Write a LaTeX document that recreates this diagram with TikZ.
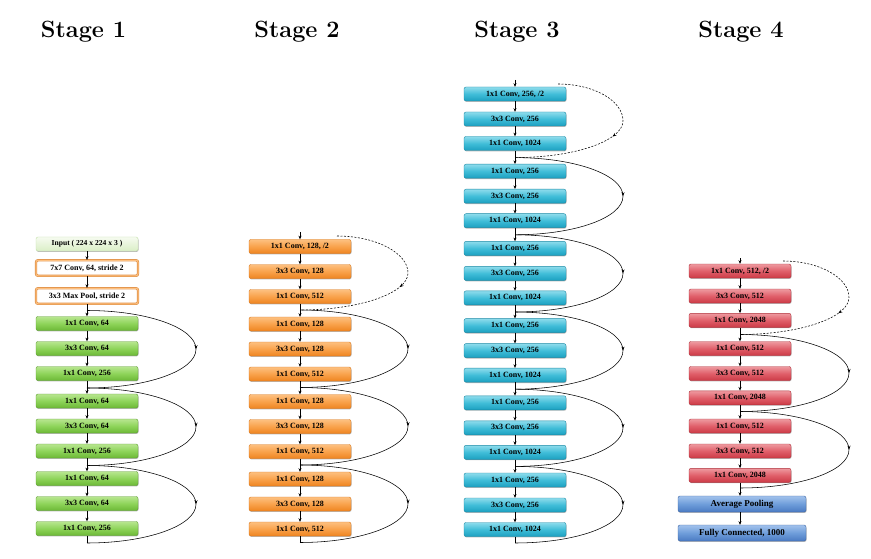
\documentclass[tikz,border=0pt]{standalone}
\usepackage{fontspec}
\newfontfamily\boxfont{Liberation Serif}
\usetikzlibrary{arrows.meta,decorations.markings,shadows,calc}
\definecolor{greenT}{HTML}{B8E690}
\definecolor{greenM}{HTML}{8ED45A}
\definecolor{greenB}{HTML}{6CB836}
\definecolor{greenD}{HTML}{5E9E30}
\definecolor{orangeT}{HTML}{FDC080}
\definecolor{orangeM}{HTML}{F9A24B}
\definecolor{orangeB}{HTML}{EE8420}
\definecolor{orangeD}{HTML}{D9771A}
\definecolor{cyanT}{HTML}{8EDCEC}
\definecolor{cyanM}{HTML}{40BDD8}
\definecolor{cyanB}{HTML}{1CA0C0}
\definecolor{cyanD}{HTML}{1A8AA6}
\definecolor{redT}{HTML}{EE9AA0}
\definecolor{redM}{HTML}{E05F6A}
\definecolor{redB}{HTML}{CC3A46}
\definecolor{redD}{HTML}{B0303A}
\definecolor{blueT}{HTML}{A2C2EC}
\definecolor{blueM}{HTML}{6E9DDA}
\definecolor{blueB}{HTML}{4A7AC2}
\definecolor{blueD}{HTML}{3C66A6}
\begin{document}
\begin{tikzpicture}[x=1pt,y=-1pt,
  box/.style={rounded corners=2pt, minimum width=102pt, minimum height=14pt, inner sep=0pt,
    font=\boxfont\bfseries\fontsize{8}{9}\selectfont, line width=0.4pt,
    drop shadow={shadow xshift=0.5pt,shadow yshift=-0.9pt,fill=black!55,opacity=0.5}},
  gbox/.style={box, draw=greenD, top color=greenT, bottom color=greenB, middle color=greenM},
  obox/.style={box, draw=orangeD, top color=orangeT, bottom color=orangeB, middle color=orangeM},
  cbox/.style={box, draw=cyanD, top color=cyanT, bottom color=cyanB, middle color=cyanM},
  rbox/.style={box, draw=redD, top color=redT, bottom color=redB, middle color=redM},
  bbox/.style={box, draw=blueD, top color=blueT, bottom color=blueB, middle color=blueM,
    minimum width=128pt, minimum height=16pt, font=\boxfont\bfseries\fontsize{9}{10}\selectfont},
  inbox/.style={box, draw={rgb,255:red,196;green,226;blue,170}, top color={rgb,255:red,246;green,251;blue,240},
    bottom color={rgb,255:red,218;green,238;blue,198}, font=\boxfont\bfseries\fontsize{7.6}{8}\selectfont},
  wbox/.style={box, minimum height=15.5pt, fill=white, draw=orangeD!80, line width=0.7pt,
    double=orangeT, double distance=1pt},
  flow/.style={-{Stealth[length=3.6pt,width=3pt]}, line width=0.45pt},
  plain/.style={line width=0.45pt},
  skip/.style={line width=0.55pt, postaction={decorate},
    decoration={markings, mark=at position 0.5 with {\arrow{Stealth[length=4pt,width=3pt]}}}},
  dskip/.style={skip, dash pattern=on 2pt off 1.5pt},
  title/.style={font=\fontsize{23.5}{28}\selectfont\bfseries, anchor=base, inner sep=0pt}
]
\useasboundingbox (0,0) rectangle (871,559);
\fill[white] (0,0) rectangle (871,559);

% titles
\node[title] (t1) at (83.5,38) {Stage 1};
\node[title] (t2) at (297,38) {Stage 2};
\node[title] (t3) at (517,38) {Stage 3};
\node[title] (t4) at (741,38) {Stage 4};

% ---------------- Stage 1 ----------------
\node[inbox] (s1in) at (87,244) {Input ( 224 x 224 x 3 )};
\node[wbox] (s1cv) at (87,268) {7x7 Conv, 64, stride 2};
\node[wbox] (s1mp) at (87,296) {3x3 Max Pool, stride 2};
\foreach \k/\y in {1/323.5, 2/401, 3/478.5} {
  \node[gbox] (s1a\k) at (87,\y) {1x1 Conv, 64};
  \node[gbox] (s1b\k) at (87,\y+25) {3x3 Conv, 64};
  \node[gbox] (s1c\k) at (87,\y+50) {1x1 Conv, 256};
  \draw[flow] (s1a\k) -- (s1b\k);
  \draw[flow] (s1b\k) -- (s1c\k);
}
\draw[flow] (s1in) -- (s1cv);
\draw[flow] (s1cv) -- (s1mp);
\draw[flow] (s1mp) -- (s1a1);
\draw[flow] (s1c1) -- (s1a2);
\draw[flow] (s1c2) -- (s1a3);
\coordinate (s1j0) at (87,310.5);
\coordinate (s1j1) at (87,388);
\coordinate (s1j2) at (87,465.5);
\coordinate (s1j3) at (87,543);
\draw[plain] (s1c3) -- (s1j3);
\foreach \a/\b in {0/1,1/2,2/3} {
  \coordinate (s1m\b) at ($(s1j\a)!0.5!(s1j\b)+(109,0)$);
}
\foreach \a/\b in {0/1,1/2,2/3} {
  \draw[skip] (s1j\a) .. controls +(60,0) and +(0,-21.4) .. (s1m\b) .. controls +(0,21.4) and +(60,0) .. (s1j\b);
}

% ---------------- Stage 2 ----------------
\coordinate (s2top) at (300,232);
\foreach \k/\y/\lab in {1/246.5/{1x1 Conv, 128, /2}, 2/324/{1x1 Conv, 128}, 3/401.5/{1x1 Conv, 128}, 4/479/{1x1 Conv, 128}} {
  \node[obox] (s2a\k) at (300,\y) {\lab};
  \node[obox] (s2b\k) at (300,\y+25) {3x3 Conv, 128};
  \node[obox] (s2c\k) at (300,\y+50) {1x1 Conv, 512};
  \draw[flow] (s2a\k) -- (s2b\k);
  \draw[flow] (s2b\k) -- (s2c\k);
}
\draw[flow] (s2top) -- (s2a1);
\draw[flow] (s2c1) -- (s2a2);
\draw[flow] (s2c2) -- (s2a3);
\draw[flow] (s2c3) -- (s2a4);
\coordinate (s2d) at (337,236);
\coordinate (s2j1) at (300,310);
\coordinate (s2j2) at (300,387.5);
\coordinate (s2j3) at (300,465);
\coordinate (s2j4) at (300,542.5);
\draw[plain] (s2c4) -- (s2j4);
\coordinate (s2m1) at (408,273);
\draw[dskip] (s2d) .. controls +(39,0) and +(0,-20) .. (s2m1) .. controls +(0,20) and +(60,0) .. (s2j1);
\foreach \a/\b in {1/2,2/3,3/4} {
  \coordinate (s2m\b) at ($(s2j\a)!0.5!(s2j\b)+(108,0)$);
}
\foreach \a/\b in {1/2,2/3,3/4} {
  \draw[skip] (s2j\a) .. controls +(60,0) and +(0,-21.4) .. (s2m\b) .. controls +(0,21.4) and +(60,0) .. (s2j\b);
}

% ---------------- Stage 3 ----------------
\coordinate (s3top) at (515,80);
\foreach \k/\y/\lab in {1/94/{1x1 Conv, 256, /2}, 2/171.2/{1x1 Conv, 256}, 3/248.4/{1x1 Conv, 256}, 4/325.6/{1x1 Conv, 256}, 5/402.8/{1x1 Conv, 256}, 6/480/{1x1 Conv, 256}} {
  \node[cbox] (s3a\k) at (515,\y) {\lab};
  \node[cbox] (s3b\k) at (515,\y+25) {3x3 Conv, 256};
  \node[cbox] (s3c\k) at (515,\y+49.5) {1x1 Conv, 1024};
  \draw[flow] (s3a\k) -- (s3b\k);
  \draw[flow] (s3b\k) -- (s3c\k);
}
\draw[flow] (s3top) -- (s3a1);
\foreach \a/\b in {1/2,2/3,3/4,4/5,5/6} {
  \draw[flow] (s3c\a) -- (s3a\b);
}
\coordinate (s3d) at (558,84);
\foreach \k/\y in {1/157.6, 2/234.8, 3/312, 4/389.2, 5/466.4, 6/543} {
  \coordinate (s3j\k) at (515,\y);
}
\draw[plain] (s3c6) -- (s3j6);
\coordinate (s3m1) at (623,120.8);
\draw[dskip] (s3d) .. controls +(36,0) and +(0,-20) .. (s3m1) .. controls +(0,20) and +(60,0) .. (s3j1);
\foreach \a/\b in {1/2,2/3,3/4,4/5,5/6} {
  \coordinate (s3m\b) at ($(s3j\a)!0.5!(s3j\b)+(108,0)$);
}
\foreach \a/\b in {1/2,2/3,3/4,4/5,5/6} {
  \draw[skip] (s3j\a) .. controls +(60,0) and +(0,-21.4) .. (s3m\b) .. controls +(0,21.4) and +(60,0) .. (s3j\b);
}

% ---------------- Stage 4 ----------------
\coordinate (s4top) at (740,258);
\foreach \k/\y/\lab in {1/271/{1x1 Conv, 512, /2}, 2/348.5/{1x1 Conv, 512}, 3/426/{1x1 Conv, 512}} {
  \node[rbox] (s4a\k) at (740,\y) {\lab};
  \node[rbox] (s4b\k) at (740,\y+25) {3x3 Conv, 512};
  \node[rbox] (s4c\k) at (740,\y+49.3) {1x1 Conv, 2048};
  \draw[flow] (s4a\k) -- (s4b\k);
  \draw[flow] (s4b\k) -- (s4c\k);
}
\node[bbox] (s4ap) at (742,504) {Average Pooling};
\node[bbox] (s4fc) at (742,533) {Fully Connected, 1000};
\draw[flow] (s4top) -- (s4a1);
\draw[flow] (s4c1) -- (s4a2);
\draw[flow] (s4c2) -- (s4a3);
\draw[flow] (s4c3.south) -- (s4ap.north -| s4c3.south);
\draw[flow] (s4ap.south -| s4c3.south) -- (s4fc.north -| s4c3.south);
\coordinate (s4d) at (783,261);
\coordinate (s4j1) at (740,334.5);
\coordinate (s4j2) at (740,411.5);
\coordinate (s4j3) at (740,488);
\coordinate (s4m1) at (849,297.5);
\draw[dskip] (s4d) .. controls +(36,0) and +(0,-20) .. (s4m1) .. controls +(0,20) and +(60,0) .. (s4j1);
\foreach \a/\b in {1/2,2/3} {
  \coordinate (s4m\b) at ($(s4j\a)!0.5!(s4j\b)+(109,0)$);
}
\foreach \a/\b in {1/2,2/3} {
  \draw[skip] (s4j\a) .. controls +(60,0) and +(0,-21.4) .. (s4m\b) .. controls +(0,21.4) and +(60,0) .. (s4j\b);
}
\end{tikzpicture}
\end{document}
